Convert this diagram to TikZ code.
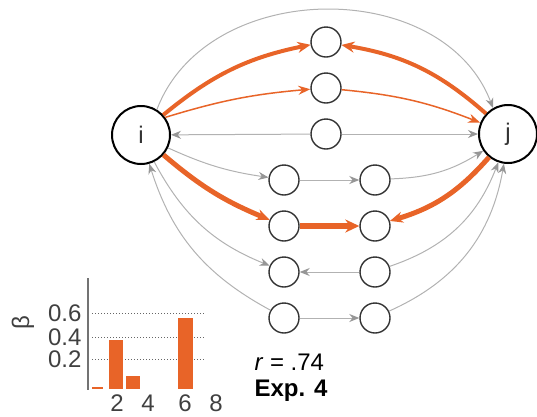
\documentclass[tikz,border=0pt]{standalone}
\usepackage{fontspec}
\setmainfont{Liberation Sans}
\usetikzlibrary{positioning}
\usetikzlibrary{arrows.meta}
\definecolor{hot}{RGB}{232,100,40}
\definecolor{cold}{RGB}{178,178,178}
\definecolor{coldtip}{RGB}{150,150,150}
\tikzstyle{hub} = [circle, draw=black, line width=2pt, minimum size=58pt, inner sep=0pt, text=black!80, font=\fontsize{24}{26}\selectfont]
\tikzstyle{unit} = [circle, draw=black!80, line width=1.4pt, minimum size=30pt, inner sep=0pt]
\tikzstyle{faint} = [draw=cold, line width=1pt, -{Stealth[length=10pt,width=8pt,color=coldtip]}]
\tikzstyle{mild} = [draw=hot, line width=1.5pt, -{Stealth[length=12pt,width=9pt]}]
\tikzstyle{strong} = [draw=hot, line width=4pt, -{Stealth[length=13pt,width=11pt]}]
\tikzstyle{tick} = [font=\fontsize{24}{26}\selectfont, text=black!75]

\begin{document}
\begin{tikzpicture}[x=1pt, y=1pt, node distance=46pt]
        \useasboundingbox (0,0) rectangle (537,-416);
        \node (i) [hub] at (141,-135) {i};
        \node (j) [hub] at (508,-134) {j};
        \node (top1) [unit] at (326,-42) {};
        \node (top2) [unit, below of=top1] {};
        \node (top3) [unit, below of=top2] {};
        \node (left1) [unit, below of=top3, xshift=-42pt] {};
        \node (left2) [unit, below of=left1] {};
        \node (left3) [unit, below of=left2] {};
        \node (left4) [unit, below of=left3] {};
        \node (right1) [unit, right of=left1, xshift=45pt] {};
        \node (right2) [unit, below of=right1] {};
        \node (right3) [unit, below of=right2] {};
        \node (right4) [unit, below of=right3] {};
        % paths over the top
        \draw [faint] (i.58) .. controls +(50,132) and +(-50,132) .. (j.120);
        \draw [strong] (i.42) to[bend left=14] (top1);
        \draw [strong] (j) to[bend right=16] (top1);
        \draw [mild] (i.36) to[bend left=6] (top2);
        \draw [mild] (top2) to[bend left=8] (j);
        \draw [faint] (top3) -- (i);
        \draw [faint] (top3) -- (j);
        % paths through two steps
        \draw [faint] (i) to[bend right=8] (left1);
        \draw [faint] (left1) -- (right1);
        \draw [faint] (right1) to[bend right=15] (j);
        \draw [strong, line width=5pt] (i) to[bend right=9] (left2);
        \draw [strong, line width=6pt, -{Stealth[length=14pt,width=13pt]}] (left2) -- (right2);
        \draw [strong, line width=5pt] (j) to[bend left=16] (right2);
        \draw [faint] (i) to[bend right=20] (left3);
        \draw [faint] (right3) -- (left3);
        \draw [faint] (right3) to[bend right=25] (j);
        \draw [faint] (left4) to[bend left=22] (i);
        \draw [faint] (left4) -- (right4);
        \draw [faint] (right4) to[bend right=28] (j);
        % weights
        \foreach \y in {-313,-337,-359}
            \draw [black!60, line width=1pt, dotted] (92,\y) -- (204,\y);
        \draw [black!55, line width=1.5pt] (88,-278) -- (88,-390);
        \fill [hot] (92,-389) rectangle (103,-387);
        \fill [hot] (109,-389) rectangle (123,-340);
        \fill [hot] (126,-389) rectangle (140,-376);
        \fill [hot] (178,-389) rectangle (193,-318);
        \node (w6) [tick, anchor=east] at (85,-313) {0.6};
        \node (w4) [tick, anchor=east] at (85,-337) {0.4};
        \node (w2) [tick, anchor=east] at (85,-359) {0.2};
        \node (beta) [tick, rotate=90] at (23,-323) {β};
        \node (k2) [tick, anchor=base, inner sep=1pt] at (117,-411) {2};
        \node (k4) [tick, anchor=base, inner sep=1pt] at (148,-411) {4};
        \node (k6) [tick, anchor=base, inner sep=1pt] at (185,-411) {6};
        \node (k8) [tick, anchor=base, inner sep=1pt] at (216,-411) {8};
        \node (score) [anchor=west, font=\fontsize{24}{26}\selectfont] at (251,-362) {\textit{r} = .74};
        \node (expt) [anchor=west, font=\fontsize{24}{26}\selectfont\bfseries] at (251,-391) {Exp. 4};
    \end{tikzpicture}
\end{document}
